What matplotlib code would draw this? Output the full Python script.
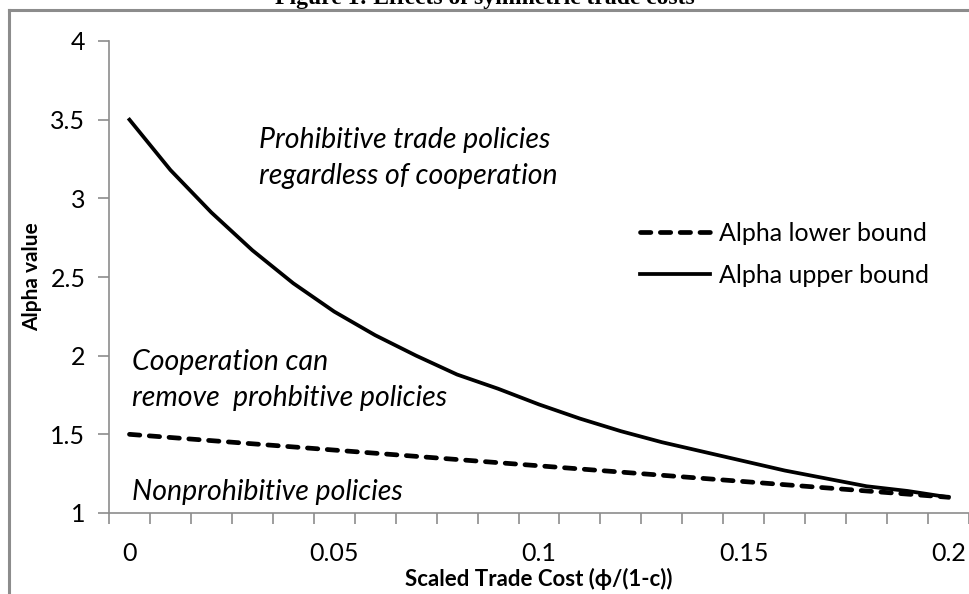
import matplotlib
matplotlib.use("Agg")
import matplotlib.pyplot as plt
from matplotlib.lines import Line2D

# ── data ──────────────────────────────────────────────────
trade_cost = [0.00, 0.01, 0.02, 0.03, 0.04, 0.05, 0.06, 0.07, 0.08, 0.09, 0.10,
              0.11, 0.12, 0.13, 0.14, 0.15, 0.16, 0.17, 0.18, 0.19, 0.20]
alpha_lower = [1.50, 1.48, 1.46, 1.44, 1.42, 1.40, 1.38, 1.36, 1.34, 1.32, 1.30,
               1.28, 1.26, 1.24, 1.22, 1.20, 1.18, 1.16, 1.14, 1.12, 1.10]
alpha_upper = [3.50, 3.18, 2.91, 2.67, 2.46, 2.28, 2.13, 2.00, 1.88, 1.79, 1.69,
               1.60, 1.52, 1.45, 1.39, 1.33, 1.27, 1.22, 1.17, 1.14, 1.10]
x_ticks = [0.0, 0.05, 0.10, 0.15, 0.20]
x_tick_labels = ["0", "0.05", "0.1", "0.15", "0.2"]
y_ticks = [1, 1.5, 2, 2.5, 3, 3.5, 4]
y_tick_labels = ["1", "1.5", "2", "2.5", "3", "3.5", "4"]

W, H = 969, 594
SANS = ["Lato", "DejaVu Sans"]
GREY = "#8c8c8c"
plt.rcParams["font.family"] = SANS


def px(x, y):
    """像素坐标 -> figure 坐标"""
    return x / W, 1 - y / H


fig = plt.figure(figsize=(W / 100, H / 100), dpi=100)
fig.patch.set_facecolor("white")

# 外框 + 被截掉的标题
fig.add_artist(Line2D([9 / W, 1.01], [1 - 10 / H] * 2, color=GREY, lw=2.2))
fig.add_artist(Line2D([9 / W] * 2, [-0.01, 1 - 10 / H], color=GREY, lw=2.2))
fig.text(*px(485, 4), "Figure 1: Effects of symmetric trade costs",
         ha="center", va="baseline", fontsize=17, fontweight="bold",
         family="Liberation Serif")

ax = fig.add_axes([109 / W, 81 / H, 860 / W, 472 / H])

ax.plot(trade_cost, alpha_lower, color="black", lw=3.4, ls=(0, (2.2, 2.0)),
        dash_capstyle="round", label="Alpha lower bound")
ax.plot(trade_cost, alpha_upper, color="black", lw=2.7,
        label="Alpha upper bound")

ax.set_xlim(-0.005, 0.205)
ax.set_ylim(1, 4)

# Excel 风格类别轴：刻度线在类别之间，标签每 5 个
ax.set_xticks(x_ticks)
ax.set_xticklabels(x_tick_labels)
ax.set_xticks([-0.005 + 0.01 * i for i in range(22)], minor=True)
ax.tick_params(axis="x", which="major", length=0, pad=21, labelsize=18)
ax.tick_params(axis="x", which="minor", length=8, width=1.2, color=GREY)
ax.set_yticks(y_ticks)
ax.set_yticklabels(y_tick_labels)
ax.tick_params(axis="y", length=8, width=1.2, color=GREY, pad=9, labelsize=18)

for s in ("top", "right"):
    ax.spines[s].set_visible(False)
for s in ("left", "bottom"):
    ax.spines[s].set_color(GREY)
    ax.spines[s].set_linewidth(1.2)

ax.set_xlabel("Scaled Trade Cost (ϕ/(1-c))", fontsize=16, fontweight="bold",
              labelpad=2)
ax.set_ylabel("Alpha value", fontsize=15, fontweight="bold", labelpad=6)

# 区域注释
note_kw = dict(ha="left", va="center", fontsize=20.5, style="italic")
fig.text(*px(259, 140), "Prohibitive trade policies", **note_kw)
fig.text(*px(259, 176), "regardless of cooperation", **note_kw)
fig.text(*px(132, 362), "Cooperation can", **note_kw)
fig.text(*px(132, 398), "remove  prohbitive policies", **note_kw)
fig.text(*px(132, 492), "Nonprohibitive policies", **note_kw)

ax.legend(loc="upper left", bbox_to_anchor=px(640, 222), bbox_transform=fig.transFigure,
          frameon=False, fontsize=18, handlelength=2.8, handletextpad=0.35,
          labelspacing=0.75, borderaxespad=0, borderpad=0)

fig.savefig("out.png", dpi=100)
